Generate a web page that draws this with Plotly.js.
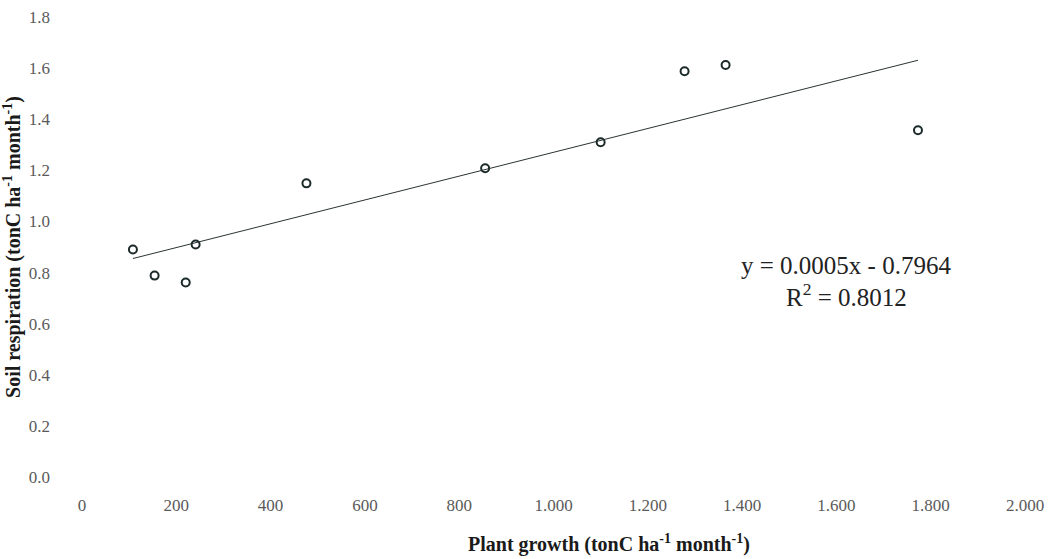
<!DOCTYPE html>
<html>
<head>
<meta charset="utf-8">
<script src="https://cdn.plot.ly/plotly-3.0.1.min.js"></script>
<style>html,body{margin:0;padding:0;background:#fff;}#chart{width:1056px;height:559px;}</style>
</head>
<body>
<div id="chart"></div>
<script>
// Data
const plantGrowth = [108, 154, 220, 241, 476, 855, 1100, 1278, 1365, 1773];
const soilRespiration = [0.89, 0.788, 0.761, 0.91, 1.149, 1.208, 1.31, 1.588, 1.612, 1.357];
const xTickVals = [0, 200, 400, 600, 800, 1000, 1200, 1400, 1600, 1800, 2000];
const xTickText = ["0", "200", "400", "600", "800", "1.000", "1.200", "1.400", "1.600", "1.800", "2.000"];
const yTickVals = [0, 0.2, 0.4, 0.6, 0.8, 1.0, 1.2, 1.4, 1.6, 1.8];
const equationText = "y = 0.0005x - 0.7964";
const r2Text = "R<sup>2</sup> = 0.8012";
const xTitleText = "<b>Plant growth (tonC ha<sup>-1</sup> month<sup>-1</sup>)</b>";
const yTitleText = "<b>Soil respiration (tonC ha<sup>-1</sup> month<sup>-1</sup>)</b>";

// Linear least-squares trend line over the data
const n = plantGrowth.length;
const mx = plantGrowth.reduce((a, b) => a + b, 0) / n;
const my = soilRespiration.reduce((a, b) => a + b, 0) / n;
let sxy = 0, sxx = 0;
for (let i = 0; i < n; i++) {
  sxy += (plantGrowth[i] - mx) * (soilRespiration[i] - my);
  sxx += (plantGrowth[i] - mx) ** 2;
}
const slope = sxy / sxx;
const intercept = my - slope * mx;
const xMin = Math.min(...plantGrowth), xMax = Math.max(...plantGrowth);
const trendX = [xMin, xMax];
const trendY = trendX.map(x => intercept + slope * x);

const serif = "Liberation Serif, Times New Roman, serif";

const traces = [
  {
    x: trendX, y: trendY, type: "scatter", mode: "lines",
    line: {color: "#2b3333", width: 1},
    hoverinfo: "skip", showlegend: false
  },
  {
    x: plantGrowth, y: soilRespiration, type: "scatter", mode: "markers",
    marker: {symbol: "circle-open", size: 8, color: "#1c2a2a", line: {width: 2, color: "#1c2a2a"}},
    showlegend: false
  }
];

const layout = {
  width: 1056, height: 559,
  margin: {l: 82, r: 31, t: 17, b: 82},
  paper_bgcolor: "#fff", plot_bgcolor: "#fff",
  showlegend: false,
  xaxis: {
    range: [0, 2000], tickvals: xTickVals, ticktext: xTickText,
    showgrid: false, zeroline: false, showline: false, ticks: "",
    ticklabelstandoff: 16,
    tickfont: {family: serif, size: 17, color: "#5a5a5a"}
  },
  yaxis: {
    range: [0, 1.8], tickvals: yTickVals, tickformat: ".1f",
    showgrid: false, zeroline: false, showline: false, ticks: "",
    ticklabelstandoff: 31,
    tickfont: {family: serif, size: 17, color: "#5a5a5a"},
    title: {text: yTitleText,
            font: {family: serif, size: 20, color: "#1a1a1a"}, standoff: 8}
  },
  annotations: [
    {x: 0.559, y: -0.1435, xref: "paper", yref: "paper", text: xTitleText, showarrow: false,
     xanchor: "center", yanchor: "middle",
     font: {family: serif, size: 20, color: "#1a1a1a"}},
    {x: 1621, y: 0.826, xref: "x", yref: "y", text: equationText, showarrow: false,
     font: {family: serif, size: 25, color: "#222"}},
    {x: 1621, y: 0.712, xref: "x", yref: "y", text: r2Text, showarrow: false,
     font: {family: serif, size: 25, color: "#222"}}
  ]
};

Plotly.newPlot("chart", traces, layout, {displayModeBar: false, staticPlot: true});
</script>
</body>
</html>
